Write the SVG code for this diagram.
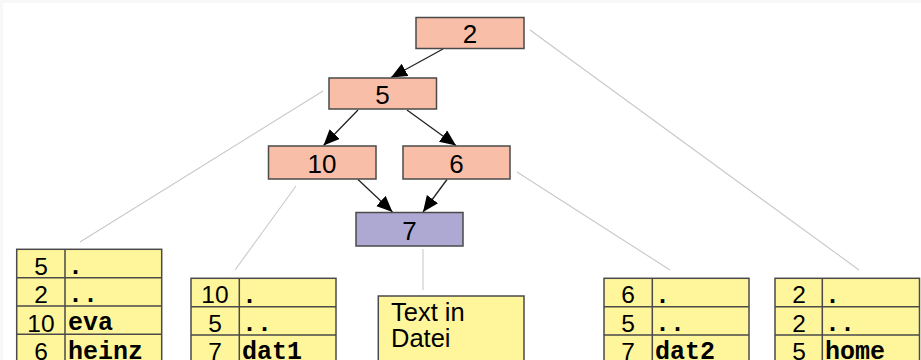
<svg xmlns="http://www.w3.org/2000/svg" width="921" height="360" viewBox="0 0 921 360">
  <style>
    .inode { fill: #f8bea8; stroke: #4a4a4a; stroke-width: 1.5; }
    .cur { fill: #ada9d3; stroke: #4a4a4a; stroke-width: 1.5; }
    .blk { fill: #fff69b; stroke: #4a4a4a; stroke-width: 1.5; }
    .sep { stroke: #4a4a4a; stroke-width: 1.5; fill: none; }
    .lbl { font-family: "Liberation Sans", Arial, sans-serif; font-size: 26px; fill: #000; text-anchor: middle; }
    .num { font-family: "Liberation Sans", Arial, sans-serif; font-size: 24.5px; fill: #000; text-anchor: middle; }
    .name { font-family: "Liberation Mono", "Courier New", monospace; font-size: 25px; font-weight: bold; fill: #000; }
    .txt { font-family: "Liberation Sans", Arial, sans-serif; font-size: 25.5px; fill: #000; }
    .link { stroke: #c8c8c8; stroke-width: 1.1; fill: none; }
    .arrow { stroke: #222; stroke-width: 1.3; fill: none; marker-end: url(#head); }
  </style>
  <defs>
    <marker id="head" markerUnits="userSpaceOnUse" markerWidth="18" markerHeight="16" refX="16" refY="7" orient="auto">
      <path d="M0,0 L16,7 L0,14 Z" fill="#000"/>
    </marker>
  </defs>

  <rect width="921" height="360" fill="#fff"/>
  <rect x="0" y="0" width="921" height="3" fill="#f8f8f8"/>
  <rect x="0" y="0" width="3" height="360" fill="#f8f8f8"/>

  <!-- thin links from each inode to its data block -->
  <g id="links">
    <line class="link" x1="530" y1="30" x2="859" y2="270"/>
    <line class="link" x1="323" y1="91" x2="80" y2="242"/>
    <line class="link" x1="296" y1="186" x2="235" y2="270"/>
    <line class="link" x1="517" y1="172" x2="670" y2="270"/>
    <line class="link" x1="423" y1="249" x2="423" y2="290"/>
  </g>

  <!-- path resolution arrows -->
  <g id="connectors">
    <line class="arrow" x1="443" y1="49" x2="391" y2="77.5"/>
    <line class="arrow" x1="358" y1="110" x2="323.5" y2="145.5"/>
    <line class="arrow" x1="407" y1="110" x2="456" y2="145.5"/>
    <line class="arrow" x1="358" y1="179.5" x2="392.5" y2="212"/>
    <line class="arrow" x1="447" y1="179.5" x2="423" y2="212"/>
  </g>

  <g id="inode-2">
    <rect class="inode" x="416" y="17.5" width="108" height="31"/>
    <text class="lbl" x="470" y="42.5">2</text>
  </g>
  <g id="inode-5">
    <rect class="inode" x="329" y="78" width="107.5" height="31"/>
    <text class="lbl" x="382.5" y="104">5</text>
  </g>
  <g id="inode-10">
    <rect class="inode" x="268.5" y="146" width="107.5" height="33"/>
    <text class="lbl" x="322" y="172.5">10</text>
  </g>
  <g id="inode-6">
    <rect class="inode" x="403" y="146" width="107" height="33"/>
    <text class="lbl" x="456.5" y="172.5">6</text>
  </g>
  <g id="inode-7">
    <rect class="cur" x="356" y="212.5" width="107" height="33.5"/>
    <text class="lbl" x="409.5" y="239.5">7</text>
  </g>

  <!-- directory block of inode 5 -->
  <g id="dir-5">
    <rect class="blk" x="16.7" y="249.3" width="145" height="130"/>
    <path class="sep" d="M65,249.3 V380 M16.7,277.7 H161.7 M16.7,306 H161.7 M16.7,334.3 H161.7"/>
    <text class="num" x="41" y="275">5</text>
    <text class="num" x="41" y="303.3">2</text>
    <text class="num" x="41" y="331.7">10</text>
    <text class="num" x="41" y="360">6</text>
    <text class="name" x="68" y="274">.</text>
    <text class="name" x="68" y="302.3">..</text>
    <text class="name" x="68" y="330.3">eva</text>
    <text class="name" x="68" y="358.7">heinz</text>
  </g>

  <!-- directory block of inode 10 -->
  <g id="dir-10">
    <rect class="blk" x="191" y="278.3" width="145" height="100"/>
    <path class="sep" d="M239.3,278.3 V380 M191,306.7 H336 M191,335 H336"/>
    <text class="num" x="215" y="303.3">10</text>
    <text class="num" x="215" y="331.7">5</text>
    <text class="num" x="215" y="360">7</text>
    <text class="name" x="242" y="302.7">.</text>
    <text class="name" x="242" y="331">..</text>
    <text class="name" x="242" y="359.3">dat1</text>
  </g>

  <!-- file data of inode 7 -->
  <g id="data-7">
    <rect class="blk" x="378.3" y="296" width="145.7" height="90"/>
    <text class="txt" x="391" y="321">Text in</text>
    <text class="txt" x="391" y="346.7">Datei</text>
  </g>

  <!-- directory block of inode 6 -->
  <g id="dir-6">
    <rect class="blk" x="604" y="278.3" width="145" height="100"/>
    <path class="sep" d="M652.3,278.3 V380 M604,306.7 H749 M604,335 H749"/>
    <text class="num" x="628" y="303.3">6</text>
    <text class="num" x="628" y="331.7">5</text>
    <text class="num" x="628" y="360">7</text>
    <text class="name" x="655" y="302.7">.</text>
    <text class="name" x="655" y="331">..</text>
    <text class="name" x="655" y="359.3">dat2</text>
  </g>

  <!-- directory block of inode 2 (root) -->
  <g id="dir-2">
    <rect class="blk" x="775" y="278.3" width="144.5" height="100"/>
    <path class="sep" d="M822.3,278.3 V380 M775,306.7 H919.5 M775,335 H919.5"/>
    <text class="num" x="799" y="303.3">2</text>
    <text class="num" x="799" y="331.7">2</text>
    <text class="num" x="799" y="360">5</text>
    <text class="name" x="825" y="302.7">.</text>
    <text class="name" x="825" y="331">..</text>
    <text class="name" x="825" y="359.3">home</text>
  </g>
</svg>
